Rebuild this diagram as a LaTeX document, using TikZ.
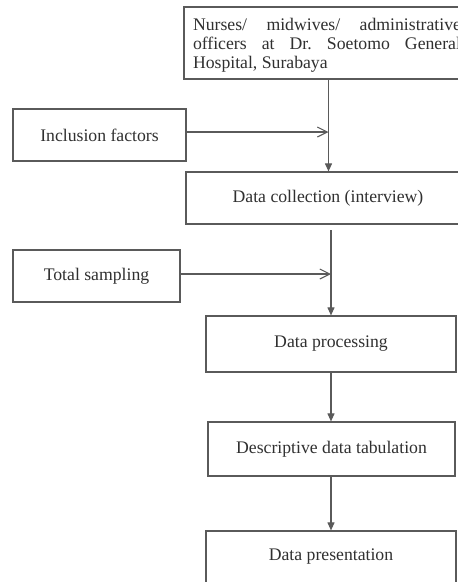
\documentclass[tikz,border=0pt]{standalone}
\usepackage{fontspec}
\setmainfont{Liberation Serif}
\usetikzlibrary{arrows.meta}
\definecolor{ln}{HTML}{5A5A5A}
\definecolor{tx}{HTML}{303030}
\begin{document}
\begin{tikzpicture}[x=1pt,y=-1pt,
  box/.style={draw=ln,line width=1.2pt,inner sep=0pt,align=center,text=tx,
    font=\fontsize{17.7}{18.5}\selectfont},
  flow/.style={draw=ln,line width=1.1pt,-{Triangle[length=8pt,width=7pt]}},
  side/.style={draw=ln,line width=1.1pt,-{Straight Barb[length=10pt,width=10pt,line width=1.1pt]}}]
\clip (0,0) rectangle (458,582);
\fill[white] (0,0) rectangle (458,582);
\node[box,inner xsep=9pt,inner ysep=0pt] (top) at (327,43)
  {\parbox[c][72pt][c]{268pt}{\fontsize{17.7}{18.8}\selectfont\raggedright
   \vspace*{4pt}%
   \makebox[268pt][s]{Nurses/ midwives/ administrative}\\
   \makebox[268pt][s]{officers\ \ at\ \ Dr.\ \ Soetomo\ \ General}\\
   Hospital, Surabaya\par}};
\node[box,minimum width=173pt,minimum height=52pt] (incl) at (99.5,135) {Inclusion factors};
\node[box,minimum width=284pt,minimum height=52pt] (coll) at (328,198) {Data collection (interview)};
\node[box,minimum width=167pt,minimum height=52pt] (tot) at (96.5,276) {Total sampling};
\node[box,minimum width=250pt,minimum height=56pt] (proc) at (331,344) {Data processing};
\node[box,minimum width=247pt,minimum height=54pt] (desc) at (331.5,449) {Descriptive data tabulation};
\node[box,minimum width=250pt,minimum height=52pt] (pres) at (331,557) {Data presentation};
\coordinate (j1) at (328.5,132);
\coordinate (s2) at (331,230);
\coordinate (j2) at (331,274);
\draw[flow] (top.south -| j1) -- (coll.north -| j1);
\draw[side] (incl.east |- j1) -- (j1);
\draw[flow] (s2) -- (proc.north -| s2);
\draw[side] (tot.east |- j2) -- (j2);
\draw[flow] (proc.south) -- (desc.north -| proc.south);
\draw[flow] (desc.south -| pres.north) -- (pres.north);
\end{tikzpicture}
\end{document}
